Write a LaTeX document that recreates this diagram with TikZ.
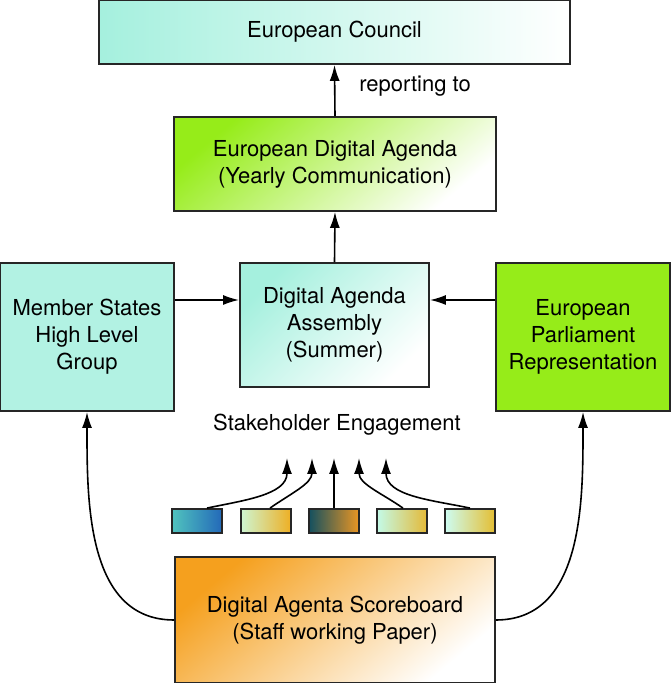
\documentclass[tikz,border=0pt]{standalone}
\usepackage{fontspec}
\setmainfont{TeX Gyre Heros}
\usetikzlibrary{arrows.meta}

\tikzset{
    box/.style={draw=black!85, line width=1.8pt, inner sep=0pt, align=center,
        font=\fontsize{22}{27}\selectfont},
    chip/.style={draw=black!85, line width=1.8pt, minimum width=50pt, minimum height=24pt,
        inner sep=0pt},
    link/.style={->, line width=1.6pt}
}

\begin{document}
\begin{tikzpicture}[x=1pt, y=1pt, >={Latex[length=16pt,width=10pt]}]

    % Colores
    \definecolor{aquaA}{RGB}{165,240,222}
    \definecolor{limeA}{RGB}{150,236,25}
    \definecolor{orangeA}{RGB}{245,160,30}

    \useasboundingbox (0,0) rectangle (670,683);

    % 1. Consejo y Agenda anual
    \node[box, minimum width=471pt, minimum height=64pt, left color=aquaA, middle color=aquaA!45,
        right color=white] (council) at (334.5,651) {European Council};
    \node[box, minimum width=322pt, minimum height=94pt, top color=limeA, middle color=limeA!35,
        bottom color=white, shading angle=40] (eda) at (335,519)
        {European Digital Agenda\\(Yearly Communication)};
    \node[font=\fontsize{22}{27}\selectfont] (rep) at (415,597) {reporting to};

    % 2. Fila central
    \node[box, minimum width=174pt, minimum height=148pt, fill=aquaA!85] (states) at (87,346)
        {Member States\\High Level\\Group};
    \node[box, minimum width=189pt, minimum height=124pt, top color=aquaA, middle color=aquaA!40,
        bottom color=white, shading angle=45] (assembly) at (334.5,358)
        {Digital Agenda\\Assembly\\(Summer)};
    \node[box, minimum width=174pt, minimum height=148pt, fill=limeA] (parliament) at (583,346)
        {European\\Parliament\\Representation};

    % 3. Participación
    \node[font=\fontsize{22}{27}\selectfont] (stake) at (337,258) {Stakeholder Engagement};

    \node[chip, left color={rgb,255:red,80;green,195;blue,190}, right color={rgb,255:red,35;green,105;blue,185}]
        (c1) at (197,162) {};
    \node[chip, left color={rgb,255:red,205;green,245;blue,210}, right color={rgb,255:red,238;green,175;blue,35}]
        (c2) at (266,162) {};
    \node[chip, left color={rgb,255:red,20;green,80;blue,95}, right color={rgb,255:red,235;green,150;blue,35}]
        (c3) at (334,162) {};
    \node[chip, left color={rgb,255:red,195;green,250;blue,232}, right color={rgb,255:red,228;green,185;blue,55}]
        (c4) at (402,162) {};
    \node[chip, left color={rgb,255:red,205;green,252;blue,242}, right color={rgb,255:red,228;green,190;blue,50}]
        (c5) at (470,162) {};

    \coordinate (t1) at (287,225);
    \coordinate (t2) at (312,225);
    \coordinate (t3) at (334,225);
    \coordinate (t4) at (359,225);
    \coordinate (t5) at (386,225);

    % 4. Cuadro de indicadores
    \node[box, minimum width=320pt, minimum height=126pt, top color=orangeA, middle color=orangeA!35,
        bottom color=white, shading angle=40] (score) at (335,63)
        {Digital Agenta Scoreboard\\(Staff working Paper)};

    % 5. Flechas
    \draw[link] (eda.north) -- (council.south);
    \draw[link] (assembly.north) -- (eda.south);
    \draw[link] ([yshift=37pt]states.east) -- ([yshift=37pt]states.east -| assembly.west);
    \draw[link] ([yshift=37pt]parliament.west) -- ([yshift=37pt]parliament.west -| assembly.east);

    \draw[link] ([xshift=10pt]c1.north) to[out=12, in=-90] (t1);
    \draw[link] ([xshift=4pt]c2.north) to[out=35, in=-90] (t2);
    \draw[link] (c3.north) -- (t3);
    \draw[link] ([xshift=1pt]c4.north) to[out=145, in=-90] (t4);
    \draw[link] ([xshift=0pt]c5.north) to[out=168, in=-90] (t5);

    \draw[link] (score.west) to[out=180, in=-90] (states.south);
    \draw[link] (score.east) to[out=0, in=-90] (parliament.south);

\end{tikzpicture}
\end{document}
